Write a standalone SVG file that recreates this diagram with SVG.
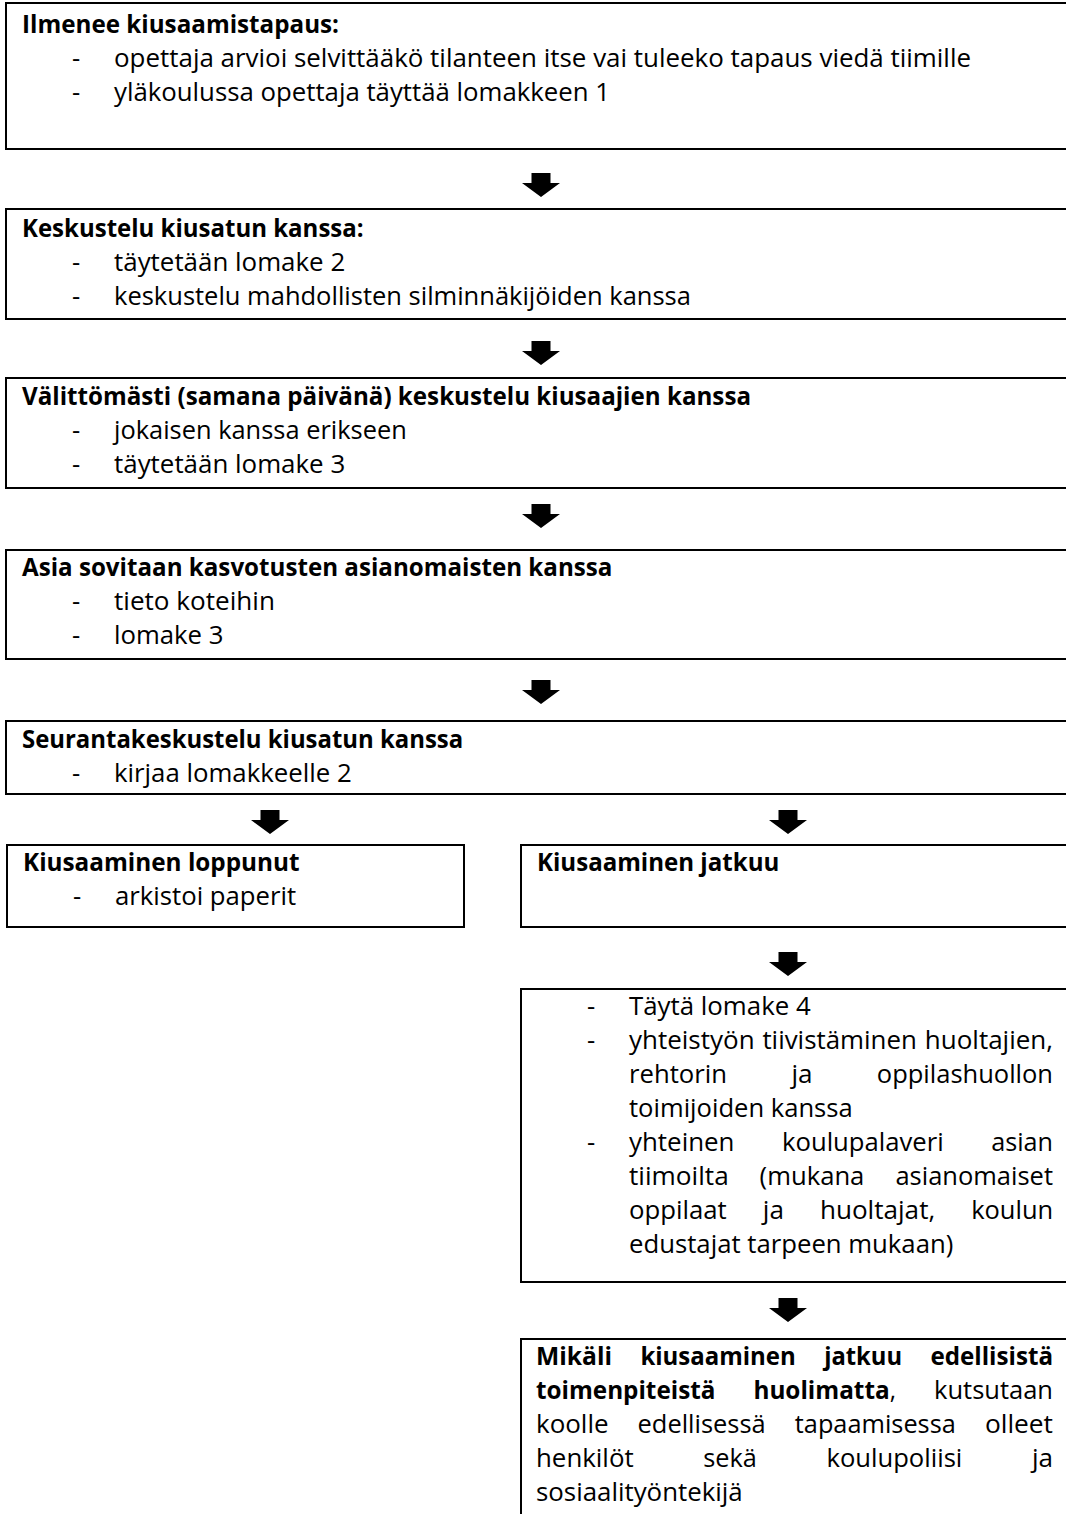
<svg xmlns="http://www.w3.org/2000/svg" width="1066" height="1514" viewBox="0 0 1066 1514">
<style>
text{font-family:"Open Sans","Liberation Sans",sans-serif;font-size:25.5px;fill:#000}
.b{font-weight:bold}
.box{fill:none;stroke:#000;stroke-width:2}
.arr{fill:#000}
</style>
<defs>
<polygon id="ar" points="-9.5,0 9.5,0 9.5,10 19,10 0,24 -19,10 -9.5,10"/>
</defs>
<rect width="1066" height="1514" fill="#fff"/>
<g id="connectors">
<use href="#ar" class="arr" x="541" y="173"/>
<use href="#ar" class="arr" x="541" y="341"/>
<use href="#ar" class="arr" x="541" y="504"/>
<use href="#ar" class="arr" x="541" y="680"/>
<use href="#ar" class="arr" x="270" y="810"/>
<use href="#ar" class="arr" x="788" y="810"/>
<use href="#ar" class="arr" x="788" y="952"/>
<use href="#ar" class="arr" x="788" y="1298"/>
</g>
<g id="n1">
<rect class="box" x="6" y="3" width="1070" height="146"/>
<text class="b" x="22" y="33" textLength="317" lengthAdjust="spacingAndGlyphs">Ilmenee kiusaamistapaus:</text>
<text x="72" y="67">-</text>
<text x="114" y="67" textLength="857" lengthAdjust="spacingAndGlyphs">opettaja arvioi selvittääkö tilanteen itse vai tuleeko tapaus viedä tiimille</text>
<text x="72" y="101">-</text>
<text x="114" y="101" textLength="496" lengthAdjust="spacingAndGlyphs">yläkoulussa opettaja täyttää lomakkeen 1</text>
</g>
<g id="n2">
<rect class="box" x="6" y="209" width="1070" height="110"/>
<text class="b" x="22" y="237" textLength="341.6" lengthAdjust="spacingAndGlyphs">Keskustelu kiusatun kanssa:</text>
<text x="72" y="271">-</text>
<text x="114" y="271" textLength="231.2" lengthAdjust="spacingAndGlyphs">täytetään lomake 2</text>
<text x="72" y="305">-</text>
<text x="114" y="305" textLength="576.9" lengthAdjust="spacingAndGlyphs">keskustelu mahdollisten silminnäkijöiden kanssa</text>
</g>
<g id="n3">
<rect class="box" x="6" y="378" width="1070" height="110"/>
<text class="b" x="22" y="405" textLength="729" lengthAdjust="spacingAndGlyphs">Välittömästi (samana päivänä) keskustelu kiusaajien kanssa</text>
<text x="72" y="439">-</text>
<text x="114" y="439" textLength="292.8" lengthAdjust="spacingAndGlyphs">jokaisen kanssa erikseen</text>
<text x="72" y="473">-</text>
<text x="114" y="473" textLength="231.2" lengthAdjust="spacingAndGlyphs">täytetään lomake 3</text>
</g>
<g id="n4">
<rect class="box" x="6" y="550" width="1070" height="109"/>
<text class="b" x="22" y="576" textLength="590.4" lengthAdjust="spacingAndGlyphs">Asia sovitaan kasvotusten asianomaisten kanssa</text>
<text x="72" y="610">-</text>
<text x="114" y="610" textLength="160.9" lengthAdjust="spacingAndGlyphs">tieto koteihin</text>
<text x="72" y="644">-</text>
<text x="114" y="644" textLength="109.4" lengthAdjust="spacingAndGlyphs">lomake 3</text>
</g>
<g id="n5">
<rect class="box" x="6" y="721" width="1070" height="73"/>
<text class="b" x="22" y="748" textLength="441.1" lengthAdjust="spacingAndGlyphs">Seurantakeskustelu kiusatun kanssa</text>
<text x="72" y="782">-</text>
<text x="114" y="782" textLength="237.7" lengthAdjust="spacingAndGlyphs">kirjaa lomakkeelle 2</text>
</g>
<g id="n6">
<rect class="box" x="7" y="845" width="457" height="82"/>
<text class="b" x="23" y="871" textLength="276.6" lengthAdjust="spacingAndGlyphs">Kiusaaminen loppunut</text>
<text x="73" y="905">-</text>
<text x="115" y="905" textLength="181.1" lengthAdjust="spacingAndGlyphs">arkistoi paperit</text>
</g>
<g id="n7">
<rect class="box" x="521" y="845" width="560" height="82"/>
<text class="b" x="537" y="871" textLength="242.3" lengthAdjust="spacingAndGlyphs">Kiusaaminen jatkuu</text>
</g>
<g id="n8">
<rect class="box" x="521" y="989" width="560" height="293"/>
<text x="587" y="1015">-</text>
<text x="629" y="1015" textLength="181.7" lengthAdjust="spacingAndGlyphs">Täytä lomake 4</text>
<text x="587" y="1049">-</text>
<text x="629" y="1049" textLength="125.6" lengthAdjust="spacingAndGlyphs">yhteistyön</text>
<text x="762.4" y="1049" textLength="154.5" lengthAdjust="spacingAndGlyphs">tiivistäminen</text>
<text x="924.8" y="1049" textLength="128.2" lengthAdjust="spacingAndGlyphs">huoltajien,</text>
<text x="629" y="1083" textLength="98.1" lengthAdjust="spacingAndGlyphs">rehtorin</text>
<text x="791.4" y="1083" textLength="21.1" lengthAdjust="spacingAndGlyphs">ja</text>
<text x="876.8" y="1083" textLength="176.2" lengthAdjust="spacingAndGlyphs">oppilashuollon</text>
<text x="629" y="1117" textLength="223.7" lengthAdjust="spacingAndGlyphs">toimijoiden kanssa</text>
<text x="587" y="1151">-</text>
<text x="629" y="1151" textLength="105.5" lengthAdjust="spacingAndGlyphs">yhteinen</text>
<text x="782" y="1151" textLength="161.7" lengthAdjust="spacingAndGlyphs">koulupalaveri</text>
<text x="991.2" y="1151" textLength="61.8" lengthAdjust="spacingAndGlyphs">asian</text>
<text x="629" y="1185" textLength="99.7" lengthAdjust="spacingAndGlyphs">tiimoilta</text>
<text x="759.6" y="1185" textLength="104.8" lengthAdjust="spacingAndGlyphs">(mukana</text>
<text x="895.4" y="1185" textLength="157.6" lengthAdjust="spacingAndGlyphs">asianomaiset</text>
<text x="629" y="1219" textLength="97.8" lengthAdjust="spacingAndGlyphs">oppilaat</text>
<text x="762.8" y="1219" textLength="21.1" lengthAdjust="spacingAndGlyphs">ja</text>
<text x="819.9" y="1219" textLength="115.3" lengthAdjust="spacingAndGlyphs">huoltajat,</text>
<text x="971.2" y="1219" textLength="81.9" lengthAdjust="spacingAndGlyphs">koulun</text>
<text x="629" y="1253" textLength="324.3" lengthAdjust="spacingAndGlyphs">edustajat tarpeen mukaan)</text>
</g>
<g id="n9">
<rect class="box" x="521" y="1339" width="560" height="200"/>
<text class="b" x="536" y="1365" textLength="76" lengthAdjust="spacingAndGlyphs">Mikäli</text>
<text class="b" x="640.4" y="1365" textLength="155.4" lengthAdjust="spacingAndGlyphs">kiusaaminen</text>
<text class="b" x="824.2" y="1365" textLength="77.9" lengthAdjust="spacingAndGlyphs">jatkuu</text>
<text class="b" x="930.5" y="1365" textLength="122.5" lengthAdjust="spacingAndGlyphs">edellisistä</text>
<text class="b" x="536" y="1399" textLength="179.4" lengthAdjust="spacingAndGlyphs">toimenpiteistä</text>
<text x="753.4" y="1399" textLength="142.6" lengthAdjust="spacingAndGlyphs"><tspan class="b">huolimatta</tspan>,</text>
<text x="934" y="1399" textLength="119" lengthAdjust="spacingAndGlyphs">kutsutaan</text>
<text x="536" y="1433" textLength="72.5" lengthAdjust="spacingAndGlyphs">koolle</text>
<text x="637.6" y="1433" textLength="128.1" lengthAdjust="spacingAndGlyphs">edellisessä</text>
<text x="794.8" y="1433" textLength="161" lengthAdjust="spacingAndGlyphs">tapaamisessa</text>
<text x="984.9" y="1433" textLength="68.1" lengthAdjust="spacingAndGlyphs">olleet</text>
<text x="536" y="1467" textLength="97.7" lengthAdjust="spacingAndGlyphs">henkilöt</text>
<text x="703.3" y="1467" textLength="53.6" lengthAdjust="spacingAndGlyphs">sekä</text>
<text x="826.5" y="1467" textLength="135.8" lengthAdjust="spacingAndGlyphs">koulupoliisi</text>
<text x="1031.9" y="1467" textLength="21.1" lengthAdjust="spacingAndGlyphs">ja</text>
<text x="536" y="1501" textLength="206.7" lengthAdjust="spacingAndGlyphs">sosiaalityöntekijä</text>
</g>
</svg>
